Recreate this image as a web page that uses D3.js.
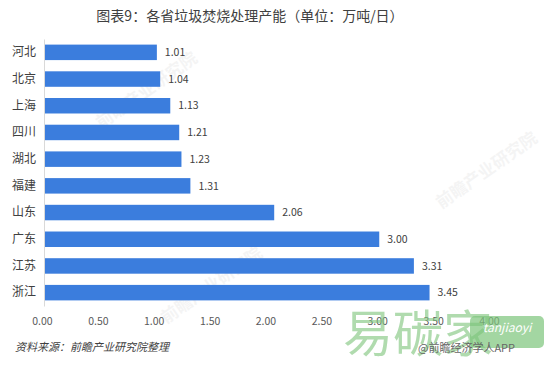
<!DOCTYPE html>
<html>
<head>
<meta charset="utf-8">
<script src="https://cdn.jsdelivr.net/npm/d3@7"></script>
<style>
  body { margin: 0; background: #fff; }
  text { font-family: "Microsoft YaHei", "Noto Sans CJK SC", sans-serif; }
</style>
</head>
<body>
<div class="canvas"></div>
<script>
// data
const provinces = ['河北', '北京', '上海', '四川', '湖北', '福建', '山东', '广东', '江苏', '浙江'];
const capacity = [1.01, 1.04, 1.13, 1.21, 1.23, 1.31, 2.06, 3.00, 3.31, 3.45];
const xTicks = [0, 0.5, 1, 1.5, 2, 2.5, 3, 3.5, 4];

const svg = d3.select('.canvas')
    .append('svg')
        .attr('width', 549)
        .attr('height', 365);

// faint watermarks behind the chart
const marks = [[150, 95], [490, 175], [215, 290]];
marks.forEach(([mx, my]) => {
    svg.append('text')
        .attr('transform', `translate(${mx},${my}) rotate(-35)`)
        .attr('text-anchor', 'middle')
        .attr('font-size', 17)
        .attr('font-weight', 'bold')
        .attr('fill', '#000')
        .attr('opacity', 0.04)
        .text('前瞻产业研究院');
});

svg.append('text')
    .attr('x', 250)
    .attr('y', 21)
    .attr('text-anchor', 'middle')
    .attr('font-size', 14)
    .attr('fill', '#404040')
    .text('图表9：各省垃圾焚烧处理产能（单位：万吨/日）');

const x = d3.scaleLinear()
    .domain([0, 4])
    .range([44, 491]);

const y = d3.scaleBand()
    .domain(provinces)
    .range([39, 306])
    .paddingInner(0.42)
    .paddingOuter(0.21);

const data = provinces.map((p, i) => ({ name: p, value: capacity[i] }));

// bars
svg.selectAll('rect.bar')
    .data(data)
    .enter()
    .append('rect')
        .attr('class', 'bar')
        .attr('x', x(0))
        .attr('y', d => y(d.name))
        .attr('width', d => x(d.value) - x(0))
        .attr('height', y.bandwidth())
        .attr('fill', '#3b7ddd');

// value labels
svg.selectAll('text.val')
    .data(data)
    .enter()
    .append('text')
        .attr('class', 'val')
        .attr('x', d => x(d.value) + 8)
        .attr('y', d => y(d.name) + y.bandwidth() / 2)
        .attr('dy', '0.35em')
        .attr('font-size', 10.5)
        .attr('fill', '#404040')
        .text(d => d.value.toFixed(2));

// category axis
const yAxis = svg.append('g')
    .attr('transform', `translate(${x(0)},0)`)
    .call(d3.axisLeft(y).tickSize(0).tickPadding(8));
yAxis.select('.domain').attr('stroke', '#d9d9d9');
yAxis.selectAll('text')
    .attr('font-size', 12)
    .attr('fill', '#404040');

// value axis (labels only)
const xAxis = svg.append('g')
    .attr('transform', 'translate(-2,311)')
    .call(d3.axisBottom(x).tickValues(xTicks).tickFormat(d3.format('.2f')).tickSize(0).tickPadding(7));
xAxis.select('.domain').remove();
xAxis.selectAll('text')
    .attr('font-size', 10.5)
    .attr('fill', '#595959');

svg.append('text')
    .attr('x', 15)
    .attr('y', 351)
    .attr('font-size', 11)
    .attr('font-style', 'italic')
    .attr('fill', '#404040')
    .text('资料来源：前瞻产业研究院整理');

// bottom-right logo overlay
svg.append('text')
    .attr('x', 343)
    .attr('y', 352)
    .attr('font-size', 50)
    .attr('fill', '#7cc47a')
    .attr('opacity', 0.6)
    .text('易碳家');
svg.append('rect')
    .attr('x', 470)
    .attr('y', 316)
    .attr('width', 74)
    .attr('height', 32)
    .attr('rx', 5)
    .attr('fill', '#7cc47a')
    .attr('opacity', 0.7);
svg.append('text')
    .attr('x', 507)
    .attr('y', 332)
    .attr('text-anchor', 'middle')
    .attr('font-size', 12)
    .attr('font-style', 'italic')
    .attr('fill', '#fff')
    .text('tanjiaoyi');
svg.append('text')
    .attr('x', 418)
    .attr('y', 352)
    .attr('font-size', 11)
    .attr('fill', '#666')
    .text('@前瞻经济学人APP');
</script>
</body>
</html>
